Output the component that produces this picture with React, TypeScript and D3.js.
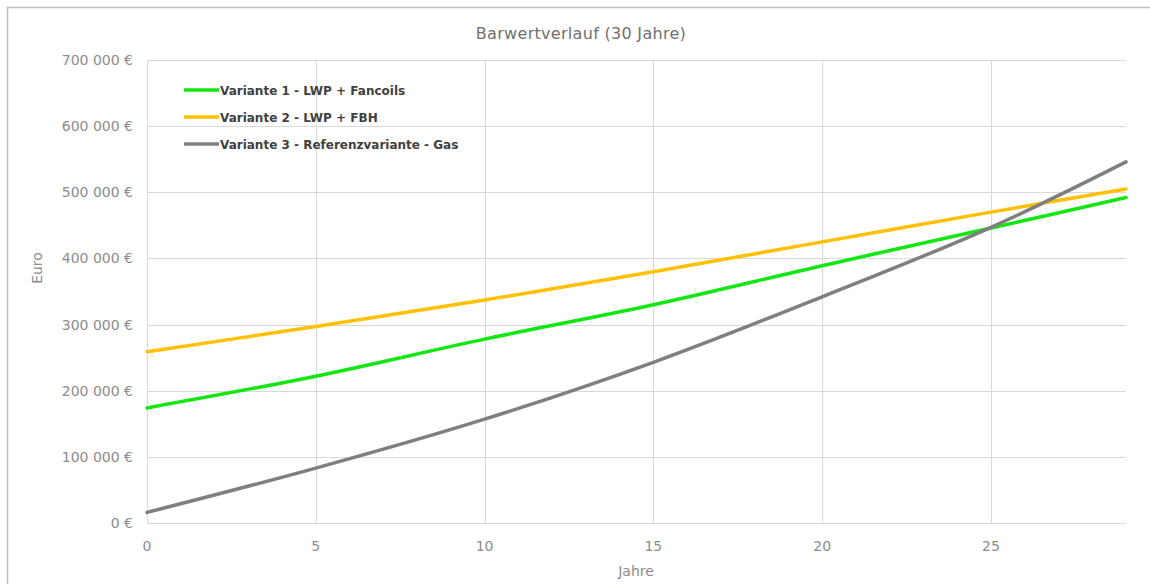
import React, { useEffect, useRef } from "react";
import * as d3 from "d3";

const years = [0, 5, 10, 15, 20, 25, 29];
const variante1 = [174000, 222000, 278000, 330000, 389000, 446000, 492000];
const variante2 = [259000, 297000, 337000, 380000, 425000, 470000, 505000];
const variante3 = [16000, 83000, 157000, 243000, 342000, 447000, 546000];
const seriesNames = [
  "Variante 1 - LWP + Fancoils",
  "Variante 2 - LWP + FBH",
  "Variante 3 - Referenzvariante - Gas",
];
const seriesColors = ["#14e614", "#ffc000", "#7f7f7f"];
const xTicks = [0, 5, 10, 15, 20, 25];
const yTicks = [0, 100000, 200000, 300000, 400000, 500000, 600000, 700000];

const W = 1150;
const H = 584;
const FONT = "'DejaVu Sans', sans-serif";

export default function App() {
  const ref = useRef<SVGSVGElement>(null);

  useEffect(() => {
    const svg = d3.select(ref.current);
    svg.selectAll("*").remove();

    const left = 147, right = 1126, top = 60, bottom = 523;
    const x = d3.scaleLinear().domain([0, 29]).range([left, right]);
    const y = d3.scaleLinear().domain([0, 700000]).range([bottom, top]);

    svg.append("rect").attr("x", 0).attr("y", 0).attr("width", W).attr("height", H).attr("fill", "#fff");
    svg.append("rect").attr("x", 7.5).attr("y", 7.5).attr("width", W + 20).attr("height", H + 20)
      .attr("fill", "none").attr("stroke", "#bdbdbd").attr("stroke-width", 1.5);

    // title
    svg.append("text").attr("x", 581).attr("y", 39).attr("text-anchor", "middle")
      .attr("font-family", FONT).attr("font-size", 16).attr("fill", "#707070")
      .attr("letter-spacing", 0.3)
      .text("Barwertverlauf (30 Jahre)");

    // gridlines
    const g = svg.append("g");
    g.selectAll("line.h").data(yTicks).enter().append("line")
      .attr("x1", left).attr("x2", right)
      .attr("y1", (d) => Math.round(y(d)) + 0.5).attr("y2", (d) => Math.round(y(d)) + 0.5)
      .attr("stroke", "#d9d9d9").attr("stroke-width", 1);
    g.selectAll("line.v").data(xTicks).enter().append("line")
      .attr("y1", top).attr("y2", bottom)
      .attr("x1", (d) => Math.round(x(d)) + 0.5).attr("x2", (d) => Math.round(x(d)) + 0.5)
      .attr("stroke", "#d9d9d9").attr("stroke-width", 1);

    const fmt = (v: number) => (v === 0 ? "0 €" : d3.format(",")(v).replace(/,/g, " ") + " €");
    svg.selectAll("text.yt").data(yTicks).enter().append("text")
      .attr("x", 133).attr("y", (d) => y(d) + 5).attr("text-anchor", "end")
      .attr("font-family", FONT).attr("font-size", 14).attr("fill", "#8c8c8c")
      .text((d) => fmt(d));
    svg.selectAll("text.xt").data(xTicks).enter().append("text")
      .attr("x", (d) => x(d)).attr("y", 551).attr("text-anchor", "middle")
      .attr("font-family", FONT).attr("font-size", 14).attr("fill", "#8c8c8c")
      .text((d) => String(d));

    svg.append("text").attr("transform", "translate(42,268) rotate(-90)").attr("text-anchor", "middle")
      .attr("font-family", FONT).attr("font-size", 14).attr("fill", "#8c8c8c").text("Euro");
    svg.append("text").attr("x", 636).attr("y", 576).attr("text-anchor", "middle")
      .attr("font-family", FONT).attr("font-size", 14).attr("fill", "#8c8c8c").text("Jahre");

    const allSeries = [variante1, variante2, variante3];
    const line = d3.line<[number, number]>()
      .x((d) => x(d[0])).y((d) => y(d[1]))
      .curve(d3.curveCatmullRom.alpha(0.5));
    allSeries.forEach((vals, i) => {
      svg.append("path")
        .attr("d", line(years.map((yr, j) => [yr, vals[j]] as [number, number])) || "")
        .attr("fill", "none").attr("stroke", seriesColors[i]).attr("stroke-width", 3.5)
        .attr("stroke-linecap", "round");
    });

    // legend
    seriesNames.forEach((name, i) => {
      const ly = 90 + i * 27;
      svg.append("line").attr("x1", 184).attr("x2", 219).attr("y1", ly).attr("y2", ly)
        .attr("stroke", seriesColors[i]).attr("stroke-width", 3.5);
      svg.append("text").attr("x", 220).attr("y", ly + 4.5)
        .attr("font-family", FONT).attr("font-size", 12).attr("font-weight", "bold")
        .attr("fill", "#404040").text(name);
    });
  }, []);

  return (
    <svg ref={ref} width={W} height={H}
      style={{ position: "absolute", left: 0, top: 0, display: "block" }} />
  );
}
